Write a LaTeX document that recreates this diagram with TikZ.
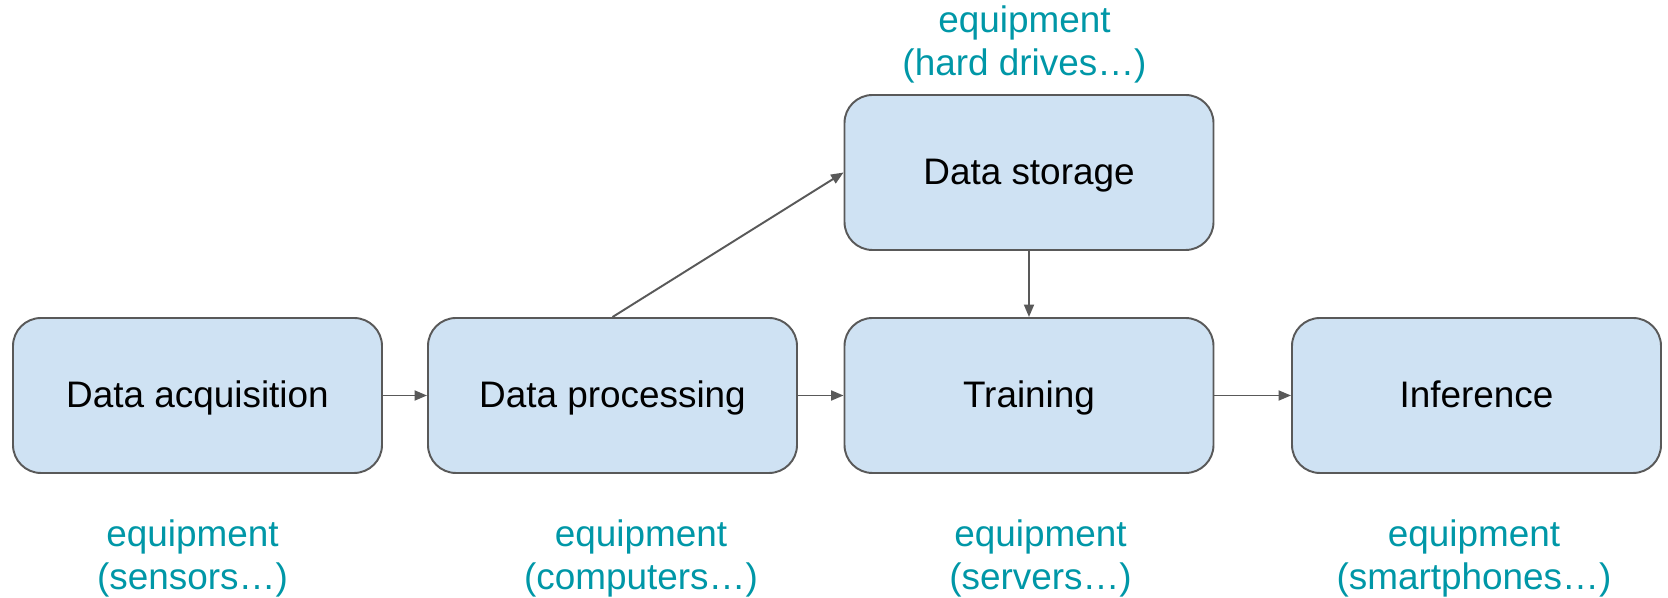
\documentclass[tikz,border=0pt]{standalone}
\usepackage{fontspec}
\setmainfont{Liberation Sans}
\usetikzlibrary{arrows.meta}

\definecolor{boxfill}{HTML}{CFE2F3}
\definecolor{boxline}{HTML}{595959}
\definecolor{equipcol}{HTML}{0097A7}

\begin{document}
\begin{tikzpicture}[
  every node/.style={font=\fontsize{21}{24.5}\selectfont},
  stage/.style={draw=boxline, fill=boxfill, line width=1.1pt, rounded corners=0.56cm,
    minimum width=7.38cm, minimum height=3.1cm, inner sep=0pt,
    text height=15pt, text depth=1pt},
  equip/.style={align=center, text=equipcol},
  flow/.style={draw=boxline, line width=1.1pt, -{Triangle[length=0.25cm,width=0.2cm]}}
]

% ---------- Frame ----------
\useasboundingbox (0,0) rectangle (33.36,11.96);

% ---------- Stages ----------
\node[stage] (acq)     at (3.95,4.05)  {Data acquisition};
\node[stage] (proc)    at (12.25,4.05) {Data processing};
\node[stage] (train)   at (20.58,4.05) {Training};
\node[stage] (infer)   at (29.53,4.05) {Inference};
\node[stage] (storage) at (20.58,8.51) {Data storage};

% ---------- Connectors ----------
\draw[flow] (acq) -- (proc);
\draw[flow] (proc) -- (train);
\draw[flow] (train) -- (infer);
\draw[flow] (proc.north) -- (storage.west);
\draw[flow] (storage) -- (train);

% ---------- Equipment labels ----------
\node[equip] (acqeq)     at (3.85,0.80)  {equipment\\(sensors…)};
\node[equip] (proceq)    at (12.82,0.80) {equipment\\(computers…)};
\node[equip] (traineq)   at (20.81,0.80) {equipment\\(servers…)};
\node[equip] (infereq)   at (29.48,0.80) {equipment\\(smartphones…)};
\node[equip] (storageeq) at (20.49,11.07) {equipment\\(hard drives…)};

\end{tikzpicture}
\end{document}
